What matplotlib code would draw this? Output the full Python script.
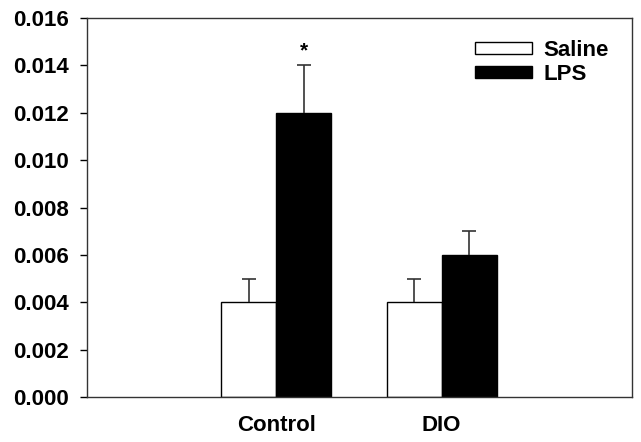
import numpy as np
import matplotlib.pyplot as plt
from matplotlib.patches import Patch

groups = ["Control", "DIO"]
saline = [0.004, 0.004]
saline_err = [0.001, 0.001]
lps = [0.012, 0.006]
lps_err = [0.002, 0.001]
yticks = [0.000, 0.002, 0.004, 0.006, 0.008, 0.010, 0.012, 0.014, 0.016]

plt.rcParams['font.family'] = ['Liberation Sans', 'DejaVu Sans']
plt.rcParams['font.weight'] = 'bold'

fig = plt.figure(figsize=(6.41, 4.42), dpi=100)
ax = fig.add_axes([87 / 641, 45 / 442, 545 / 641, 379 / 442])

x = np.arange(1, len(groups) + 1)
w = 0.333
ax.bar(x - w / 2, saline, w, color="white", edgecolor="black", linewidth=1.0)
ax.bar(x + w / 2, lps, w, color="black", edgecolor="black", linewidth=1.0)
for xs, ys, es in [(x - w / 2, saline, saline_err), (x + w / 2, lps, lps_err)]:
    eb = ax.errorbar(xs, ys, yerr=[np.zeros(2), es], fmt="none",
                     ecolor="#333333", elinewidth=1.2, capsize=5, capthick=1.2)
    # only the upper cap
    eb[1][0].set_visible(False)

# significance marker
ax.text(x[0] + w / 2, 0.0146, "*", ha="center", va="center", fontsize=15)

ax.set_xlim(-0.145, 3.152)
ax.set_ylim(0, 0.016)
ax.set_yticks(yticks)
ax.set_yticklabels([f"{v:.3f}" for v in yticks], fontsize=16)
ax.set_xticks(x)
ax.set_xticklabels(groups, fontsize=16)
ax.tick_params(axis="x", length=0, pad=13)
ax.tick_params(axis="y", direction="out", length=5, width=1, pad=8)
for s in ax.spines.values():
    s.set_linewidth(1.0)
    s.set_color("#333333")

handles = [Patch(facecolor="white", edgecolor="black", label="Saline"),
           Patch(facecolor="black", edgecolor="black", label="LPS")]
ax.legend(handles=handles, loc="upper right", frameon=False, fontsize=16,
          handlelength=2.55, handleheight=0.45, handletextpad=0.55,
          borderaxespad=0.0, borderpad=0.0, labelspacing=0.15,
          bbox_to_anchor=(0.958, 0.942))

fig.savefig("out.png", dpi=100)
